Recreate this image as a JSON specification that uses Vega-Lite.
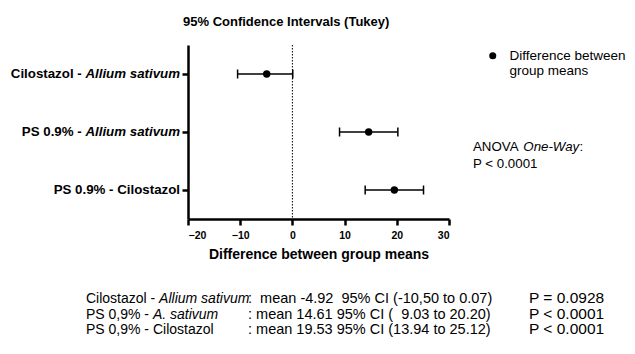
{
  "$schema": "https://vega.github.io/schema/vega-lite/v6.json",
  "width": 261,
  "height": 174,
  "autosize": {"type": "none"},
  "padding": {"left": 188, "top": 45, "right": 186, "bottom": 135},
  "background": "white",
  "config": {
    "view": {"stroke": null},
    "font": "Liberation Sans",
    "axis": {"domainColor": "black", "tickColor": "black", "domainWidth": 2.5, "tickWidth": 2.5, "tickSize": 6, "grid": false, "labelColor": "black", "titleColor": "black"},
    "text": {"color": "black"}
  },
  "title": {"text": "95% Confidence Intervals (Tukey)", "font": "Liberation Sans", "fontSize": 13, "fontWeight": "bold", "anchor": "start", "frame": "group", "dx": -5, "offset": 16, "color": "black"},
  "layer": [
    {
      "data": {"values": [
        {"comparison": "Cilostazol - Allium sativum", "prefix": "Cilostazol -", "species": "Allium sativum", "mean": -4.92, "lower": -10.50, "upper": 0.07},
        {"comparison": "PS 0.9% - Allium sativum", "prefix": "PS 0.9% -", "species": "Allium sativum", "mean": 14.61, "lower": 9.03, "upper": 20.20},
        {"comparison": "PS 0.9% - Cilostazol", "prefix": "PS 0.9% - Cilostazol", "species": "", "mean": 19.53, "lower": 13.94, "upper": 25.12}
      ]},
      "layer": [
        {
          "mark": {"type": "rule", "color": "black", "strokeWidth": 1.5},
          "encoding": {
            "y": {"field": "comparison", "type": "nominal", "sort": null, "title": null, "axis": {"labels": false, "title": null}},
            "x": {"field": "lower", "type": "quantitative", "scale": {"domain": [-20, 30], "nice": false, "zero": false}, "axis": {"values": [-20, -10, 0, 10, 20, 30], "title": "Difference between group means", "labelFont": "Liberation Sans", "labelFontSize": 10.5, "labelFontWeight": "bold", "labelPadding": 5, "titleFont": "Liberation Sans", "titleFontSize": 14, "titleFontWeight": "bold", "titlePadding": 7}},
            "x2": {"field": "upper"}
          }
        },
        {
          "mark": {"type": "tick", "color": "black", "thickness": 1.5, "size": 9, "opacity": 1},
          "encoding": {
            "y": {"field": "comparison", "type": "nominal", "sort": null},
            "x": {"field": "lower", "type": "quantitative"}
          }
        },
        {
          "mark": {"type": "tick", "color": "black", "thickness": 1.5, "size": 9, "opacity": 1},
          "encoding": {
            "y": {"field": "comparison", "type": "nominal", "sort": null},
            "x": {"field": "upper", "type": "quantitative"}
          }
        },
        {
          "mark": {"type": "circle", "size": 55, "opacity": 1},
          "encoding": {
            "y": {"field": "comparison", "type": "nominal", "sort": null},
            "x": {"field": "mean", "type": "quantitative"},
            "color": {"datum": "Difference between group means", "type": "nominal", "scale": {"range": ["black"]},
              "legend": {"orient": "none", "legendX": 298, "legendY": 4, "title": null, "padding": 0, "labelExpr": "['Difference between', 'group means']", "labelFont": "Liberation Sans", "labelFontSize": 13.5, "labelColor": "black", "labelOffset": 10, "symbolSize": 50, "symbolType": "circle", "labelLimit": 300}}
          }
        },
        {
          "mark": {"type": "text", "align": "right", "baseline": "middle", "dx": -8, "fontSize": 13.3, "fontWeight": "bold", "fontStyle": "italic"},
          "encoding": {
            "y": {"field": "comparison", "type": "nominal", "sort": null},
            "x": {"datum": -20},
            "text": {"field": "species"}
          }
        },
        {
          "transform": [{"filter": "datum.species != ''"}],
          "mark": {"type": "text", "align": "right", "baseline": "middle", "dx": -106.3, "fontSize": 13.3, "fontWeight": "bold"},
          "encoding": {
            "y": {"field": "comparison", "type": "nominal", "sort": null},
            "x": {"datum": -20},
            "text": {"field": "prefix"}
          }
        },
        {
          "transform": [{"filter": "datum.species == ''"}],
          "mark": {"type": "text", "align": "right", "baseline": "middle", "dx": -8, "fontSize": 13.3, "fontWeight": "bold"},
          "encoding": {
            "y": {"field": "comparison", "type": "nominal", "sort": null},
            "x": {"datum": -20},
            "text": {"field": "prefix"}
          }
        }
      ]
    },
    {
      "data": {"values": [{}]},
      "mark": {"type": "rule", "color": "black", "strokeWidth": 1, "strokeDash": [1.5, 1.5]},
      "encoding": {"x": {"datum": 0}}
    },
    {
      "data": {"values": [{}]},
      "layer": [
        {
          "mark": {"type": "text", "align": "left", "baseline": "alphabetic", "fontSize": 13.3, "lineHeight": 17, "dx": 24, "dy": 19, "text": ["ANOVA", "P < 0.0001"]},
          "encoding": {"x": {"datum": 30}, "y": {"datum": "PS 0.9% - Allium sativum"}}
        },
        {
          "mark": {"type": "text", "align": "left", "baseline": "alphabetic", "fontSize": 13.3, "fontStyle": "italic", "dx": 74.3, "dy": 19, "text": "One-Way"},
          "encoding": {"x": {"datum": 30}, "y": {"datum": "PS 0.9% - Allium sativum"}}
        },
        {
          "mark": {"type": "text", "align": "left", "baseline": "alphabetic", "fontSize": 13.3, "dx": 130.5, "dy": 19, "text": ":"},
          "encoding": {"x": {"datum": 30}, "y": {"datum": "PS 0.9% - Allium sativum"}}
        },
        {
          "mark": {"type": "text", "align": "left", "baseline": "alphabetic", "fontSize": 14, "lineHeight": 15.5, "dx": -102, "dy": 113, "text": ["Cilostazol -", "PS 0,9% -", "PS 0,9% - Cilostazol"]},
          "encoding": {"x": {"datum": -20}, "y": {"datum": "PS 0.9% - Cilostazol"}}
        },
        {
          "mark": {"type": "text", "align": "left", "baseline": "alphabetic", "fontSize": 14, "fontStyle": "italic", "dx": -28.9, "dy": 113, "text": "Allium sativum"},
          "encoding": {"x": {"datum": -20}, "y": {"datum": "PS 0.9% - Cilostazol"}}
        },
        {
          "mark": {"type": "text", "align": "left", "baseline": "alphabetic", "fontSize": 14, "fontStyle": "italic", "dx": -35.1, "dy": 128.5, "text": "A. sativum"},
          "encoding": {"x": {"datum": -20}, "y": {"datum": "PS 0.9% - Cilostazol"}}
        },
        {
          "mark": {"type": "text", "align": "left", "baseline": "alphabetic", "fontSize": 14.5, "lineHeight": 15.5, "dx": 60, "dy": 113, "text": [":\u00a0\u00a0mean -4.92\u00a0\u00a095% CI (-10,50 to 0.07)", "\u00a0: mean 14.61 95% CI (\u00a0\u00a09.03 to 20.20)", "\u00a0: mean 19.53 95% CI (13.94 to 25.12)"]},
          "encoding": {"x": {"datum": -20}, "y": {"datum": "PS 0.9% - Cilostazol"}}
        },
        {
          "mark": {"type": "text", "align": "left", "baseline": "alphabetic", "fontSize": 15.5, "lineHeight": 15.5, "dx": 341, "dy": 113, "text": ["P = 0.0928", "P < 0.0001", "P < 0.0001"]},
          "encoding": {"x": {"datum": -20}, "y": {"datum": "PS 0.9% - Cilostazol"}}
        }
      ]
    }
  ]
}
